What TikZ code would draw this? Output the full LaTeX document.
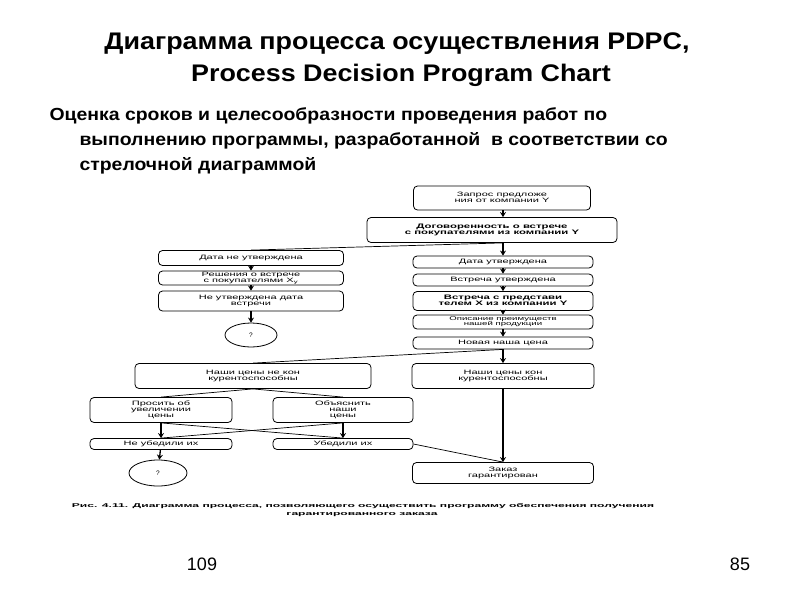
\documentclass[tikz,border=0pt]{standalone}
\usepackage{fontspec}
\setmainfont{Liberation Sans}
\usetikzlibrary{arrows.meta,shapes.geometric}
\newcommand{\wide}[2]{\scalebox{#1}[1]{#2}}
\newcommand{\bt}[1]{\scalebox{1.75}[1]{\begin{tabular}{@{}c@{}}#1\end{tabular}}}
\renewcommand{\arraystretch}{0.85}
\tikzset{
  box/.style={draw, rounded corners=4pt, line width=0.8pt, align=center, inner sep=0.5pt,
    font=\fontsize{6.3}{7}\selectfont},
  oval/.style={draw, ellipse, line width=0.8pt, inner sep=0pt, font=\fontsize{6.5}{7}\selectfont},
  arr/.style={-{Stealth[length=5pt,width=6pt]}, line width=1.3pt},
  ln/.style={line width=0.7pt},
  ttl/.style={font=\fontsize{24}{28}\selectfont\bfseries},
  sub/.style={font=\fontsize{17.5}{20}\selectfont\bfseries, anchor=west},
  num/.style={font=\fontsize{18}{20}\selectfont}
}
\begin{document}
\begin{tikzpicture}[x=1pt,y=-1pt]
\useasboundingbox (0,0) rectangle (800,600);
\node[ttl] (t1) at (397,44) {\wide{1.12}{Диаграмма процесса осуществления PDPC,}};
\node[ttl] (t2) at (401,75) {\wide{1.12}{Process Decision Program Chart}};
\node[sub] (s1) at (46,116) {\wide{1.11}{Оценка сроков и целесообразности проведения работ по}};
\node[sub] (s2) at (76,141) {\wide{1.11}{выполнению программы, разработанной\ \ в соответствии со}};
\node[sub] (s3) at (76,166) {\wide{1.11}{стрелочной диаграммой}};
\node[num] (n1) at (202,564) {109};
\node[num] (n2) at (740,564) {85};

% top
\node[box, minimum width=177pt, minimum height=24pt] (b1) at (502,198) {\bt{Запрос предложе\\ния от компании Y}};
\node[box, minimum width=250pt, minimum height=25pt, font=\fontsize{6.5}{7}\selectfont\bfseries] (b2) at (492,230) {\bt{Договоренность о встрече\\с покупателями из компании Y}};
% left column
\node[box, minimum width=185pt, minimum height=15pt] (l1) at (251,258) {\bt{Дата не утверждена}};
\node[box, minimum width=185pt, minimum height=14pt] (l2) at (251,278) {\bt{Решения о встрече\\с покупателями X$_{\mathrm y}$}};
\node[box, minimum width=185pt, minimum height=20pt] (l3) at (251,301) {\bt{Не утверждена дата\\встречи}};
\node[oval, minimum width=52pt, minimum height=24pt] (q1) at (251,335) {?};
% right column
\node[box, minimum width=180pt, minimum height=12pt] (r1) at (503,262) {\bt{Дата утверждена}};
\node[box, minimum width=180pt, minimum height=12pt] (r2) at (503,280) {\bt{Встреча утверждена}};
\node[box, minimum width=180pt, minimum height=19pt, font=\fontsize{6.5}{7}\selectfont\bfseries] (r3) at (503,301) {\bt{Встреча с представи\\телем X из компании Y}};
\node[box, minimum width=180pt, minimum height=14pt, font=\fontsize{5.5}{6}\selectfont] (r4) at (503,322) {\bt{Описание преимуществ\\нашей продукции}};
\node[box, minimum width=180pt, minimum height=12pt] (r5) at (503,343) {\bt{Новая наша цена}};
% price boxes
\node[box, minimum width=236pt, minimum height=25pt] (p1) at (253,376) {\bt{Наши цены не кон\\курентоспособны}};
\node[box, minimum width=182pt, minimum height=25pt] (p2) at (503,376) {\bt{Наши цены кон\\курентоспособны}};
% lower left
\node[box, minimum width=142pt, minimum height=25pt] (a1) at (161,410) {\bt{Просить об\\увеличении\\цены}};
\node[box, minimum width=140pt, minimum height=25pt] (a2) at (343,410) {\bt{Объяснить\\наши\\цены}};
\node[box, minimum width=142pt, minimum height=11pt] (c1) at (161,444) {\bt{Не убедили их}};
\node[box, minimum width=140pt, minimum height=11pt] (c2) at (343,444) {\bt{Убедили их}};
\node[oval, minimum width=58pt, minimum height=26pt] (q2) at (158,473) {?};
\node[box, minimum width=181pt, minimum height=21pt] (z) at (503,473) {\bt{Заказ\\гарантирован}};
% caption
\node[font=\fontsize{5.5}{5}\selectfont\bfseries] (cap1) at (363,506) {\wide{2.2}{Рис. 4.11. Диаграмма процесса, позволяющего осуществить программу обеспечения получения}};
\node[font=\fontsize{5.5}{5}\selectfont\bfseries] (cap2) at (362,515) {\wide{2.2}{гарантированного заказа}};

% connectors
\draw[arr] (b1.south -| r1.north) -- (b2.north -| r1.north);
\draw[arr] (b2.south -| r1.north) -- (r1.north);
\draw[ln] (b2.south -| r1.north) -- (l1.north);
\draw[arr] (l1) -- (l2);
\draw[arr] (l2) -- (l3);
\draw[arr] (l3) -- (q1);
\draw[arr] (r1) -- (r2);
\draw[arr] (r2) -- (r3);
\draw[arr] (r3) -- (r4);
\draw[arr] (r4) -- (r5);
\draw[arr] (r5) -- (p2);
\draw[ln] (r5.south) -- (p1.north);
\draw[ln] (p1.south) -- (a1.north);
\draw[ln] (p1.south) -- (a2.north);
\draw[arr] (a1) -- (c1);
\draw[arr] (a2) -- (c2);
\draw[ln] (a1.south) -- (c2.north);
\draw[ln] (a2.south) -- (c1.north);
\draw[arr] (c1) -- (q2);
\draw[arr] (p2) -- (z);
\draw[ln] (c2.east) -- (z.north);
\end{tikzpicture}
\end{document}
